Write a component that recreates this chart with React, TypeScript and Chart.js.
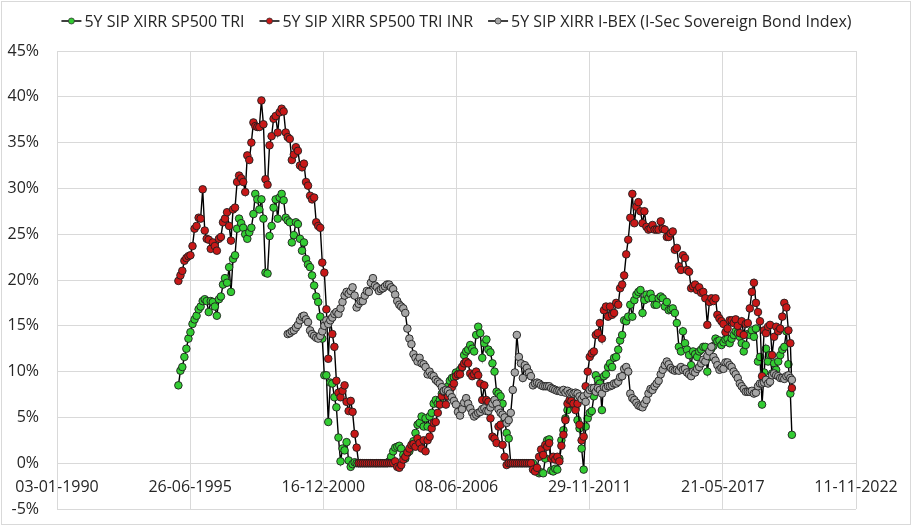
import React, { useEffect, useRef } from 'react';
import { Chart, registerables } from 'chart.js';

Chart.register(...registerables);

// ---------- data ----------
const SERIES_LABELS = [
  '5Y SIP XIRR SP500 TRI',
  '5Y SIP XIRR SP500 TRI INR',
  '5Y SIP XIRR I-BEX (I-Sec Sovereign Bond Index)',
];

// monthly observations, month-end, first one is Dec-1994
const FIRST_MONTH_END = { year: 1994, month: 12 };
const FINAL_DATE = '2020-03-23';

const X_TICK_DATES = ['1990-01-03', '1995-06-26', '2000-12-16', '2006-06-08', '2011-11-29', '2017-05-21', '2022-11-11'];
const Y_TICKS = [-5, 0, 5, 10, 15, 20, 25, 30, 35, 40, 45];

const SP500_TRI = [
  8.5, 10.1, 10.5, 11.6, 12.5, 13.6, 14.3, 15.2, 15.7, 16.1,
  16.8, 17.1, 17.7, 17.9, 17.7, 16.5, 17.7, 17.6, 17.1, 16.1,
  17.9, 18.2, 19.5, 20.2, 19.7, 21.4, 18.7, 22.3, 22.7, 25.6,
  26.7, 26.2, 25.7, 25.0, 24.5, 25.2, 25.7, 27.2, 29.4, 28.8,
  27.7, 28.8, 26.7, 20.8, 20.7, 24.8, 25.9, 27.9, 28.8, 26.7,
  29.0, 29.4, 28.7, 26.8, 26.5, 26.3, 24.1, 24.9, 26.3, 26.1,
  24.5, 23.2, 24.1, 22.3, 21.7, 21.4, 20.5, 19.4, 18.2, 17.6,
  16.0, 13.6, 9.6, 9.6, 4.5, 8.8, 8.7, 7.2, 6.1, 2.8,
  0.2, 1.6, 1.4, 2.3, 0.3, -0.4, -0.1, 0.1, 0, 0,
  0, 0, 0, 0, 0, 0, 0, 0, 0, 0,
  0, 0, 0, 0, 0.2, 0.7, 1.3, 1.7, 1.8, 1.9,
  1.6, 0.9, 0.5, 1.1, 1.3, 1.8, 2.4, 3.3, 4.2, 4.4,
  5.1, 4.0, 4.9, 4.0, 5.1, 5.5, 6.5, 6.9, 6.5, 6.9,
  7.6, 7.9, 8.2, 8.4, 9.0, 9.3, 9.4, 9.9, 9.7, 10.2,
  10.5, 11.8, 12.2, 12.4, 12.9, 12.5, 12.2, 14.0, 14.9, 14.2,
  11.5, 13.1, 13.5, 12.4, 12.1, 10.9, 10.0, 7.8, 7.6, 7.3,
  6.5, 4.7, 3.3, 2.7, 0, 0, 0, 0, 0, 0,
  0, 0, 0, 0, 0, 0, -0.6, -0.9, -1.1, -1.0,
  -1.1, 0.5, 2.5, 2.6, -0.8, -0.9, -0.6, -0.7, 0.5, 2.5,
  3.6, 4.9, 5.8, 6.5, 6.9, 6.4, 6.0, 4.7, 3.8, 1.6,
  -0.7, 4.0, 4.9, 5.5, 5.7, 7.3, 9.6, 9.1, 8.7, 5.8,
  9.5, 9.7, 10.5, 10.9, 10.5, 11.5, 11.6, 12.4, 13.4, 14.0,
  15.6, 15.5, 16.0, 17.3, 16.0, 17.8, 18.4, 18.7, 18.9, 16.4,
  17.8, 18.4, 18.0, 18.5, 18.0, 17.3, 17.3, 18.0, 18.2, 18.0,
  17.1, 17.6, 16.7, 16.8, 16.9, 16.4, 15.3, 12.7, 12.2, 14.4,
  13.1, 12.4, 11.8, 10.7, 12.2, 11.9, 11.6, 12.2, 12.4, 12.7,
  12.7, 10.0, 11.6, 12.5, 12.8, 13.6, 13.3, 13.4, 12.9, 13.2,
  13.5, 13.6, 13.1, 13.6, 14.0, 14.4, 14.2, 13.8, 13.1, 12.2,
  12.9, 14.1, 14.0, 14.5, 13.8, 14.7, 11.1, 11.6, 6.4, 9.9,
  12.5, 11.1, 11.8, 9.8, 10.9, 10.2, 11.1, 11.8, 12.4, 12.7,
  14.4, 10.8, 7.6,
];
const SP500_TRI_FINAL = 3.1;

const SP500_TRI_INR = [
  19.9, 20.5, 21.0, 22.1, 22.4, 22.6, 22.7, 23.7, 25.6, 25.9,
  26.8, 26.7, 29.9, 25.4, 24.5, 24.4, 23.4, 24.1, 23.7, 23.2,
  24.5, 24.7, 26.3, 26.7, 27.4, 25.9, 24.3, 27.7, 27.9, 30.7,
  31.4, 31.1, 30.7, 29.6, 33.6, 33.1, 35.0, 37.2, 36.8, 36.7,
  36.7, 39.6, 37.0, 31.0, 30.4, 34.7, 35.7, 37.6, 37.9, 36.1,
  38.3, 38.7, 38.4, 36.1, 35.6, 35.4, 33.1, 33.7, 34.5, 34.1,
  32.5, 32.3, 32.7, 30.7, 30.3, 29.2, 28.8, 29.0, 26.3, 25.9,
  25.7, 21.9, 20.8, 16.8, 11.4, 15.7, 14.1, 12.7, 9.0, 7.7,
  7.2, 7.9, 8.5, 6.7, 5.7, 6.8, 5.6, 3.2, 1.7, 0,
  0, 0, 0, 0, 0, 0, 0, 0, 0, 0,
  0, 0, 0, 0, 0, 0, 0, 0.2, -0.4, -0.5,
  -0.2, 0.4, 0.7, 1.2, 1.6, 2.0, 2.1, 1.8, 2.7, 2.2,
  1.6, 2.5, 1.3, 2.5, 2.9, 3.8, 4.4, 4.5, 5.5, 6.4,
  7.3, 7.8, 6.4, 7.3, 8.0, 8.3, 8.7, 9.5, 9.7, 9.7,
  10.5, 10.9, 11.1, 10.9, 9.8, 9.5, 9.7, 10.0, 9.6, 8.7,
  6.9, 8.5, 6.9, 6.7, 4.9, 2.9, 2.7, 2.2, 4.0, 4.2,
  2.0, 0.7, -0.2, 0, 0, 0, 0, 0, 0, 0,
  0, 0, 0, 0, 0, -0.7, -0.9, -0.5, 0.7, 1.5,
  0.9, 2.0, 1.8, 2.2, 0.5, 0.7, 0.4, 0.7, 0.2, 1.9,
  3.1, 4.7, 6.5, 6.9, 6.8, 6.5, 5.8, 6.5, 4.2, 2.5,
  2.9, 8.4, 10.0, 11.6, 12.0, 12.2, 14.0, 14.2, 15.3, 13.6,
  16.7, 17.1, 16.0, 17.1, 16.2, 16.4, 17.5, 17.3, 19.1, 19.5,
  20.5, 22.8, 24.4, 26.8, 29.4, 26.2, 28.0, 28.5, 27.5, 26.2,
  27.5, 25.8, 25.5, 25.6, 26.0, 25.5, 25.5, 25.5, 26.4, 25.6,
  25.5, 24.7, 24.7, 25.1, 25.3, 23.3, 23.5, 21.5, 21.1, 22.7,
  22.4, 21.1, 20.9, 19.1, 19.3, 19.5, 18.9, 19.2, 18.6, 18.7,
  18.0, 15.1, 17.6, 18.0, 17.7, 18.0, 16.2, 15.8, 15.5, 15.2,
  14.3, 14.7, 15.6, 15.6, 15.3, 15.7, 15.0, 14.2, 15.5, 14.0,
  15.2, 15.3, 16.9, 18.7, 19.7, 17.5, 16.5, 15.5, 9.5, 14.5,
  14.2, 14.9, 15.1, 11.8, 13.8, 14.9, 14.4, 14.7, 16.0, 17.5,
  17.0, 14.5, 13.1,
];
const SP500_TRI_INR_FINAL = 8.2;

// bond index series begins at month index 54 (Jun-1999)
const IBEX_START_INDEX = 54;
const IBEX = [
  14.1, 14.2, 14.4, 14.5, 14.8, 15.1,
  15.6, 16.0, 16.1, 15.7, 15.4, 14.5, 14.1, 13.9, 13.7, 13.6,
  13.9, 14.4, 15.0, 15.6, 15.2, 15.6, 15.9, 16.3, 16.5, 16.3,
  16.9, 17.6, 18.3, 18.7, 18.5, 18.8, 19.2, 18.3, 17.0, 17.4,
  17.7, 17.7, 18.3, 18.8, 18.7, 19.7, 20.2, 19.4, 19.2, 18.8,
  19.0, 19.1, 19.3, 19.5, 19.5, 19.2, 19.0, 18.4, 17.7, 17.3,
  17.1, 16.9, 16.4, 14.7, 13.6, 13.0, 11.9, 11.5, 11.1, 11.5,
  10.9, 10.8, 10.5, 9.7, 10.0, 9.6, 9.5, 9.1, 8.9, 8.7,
  8.3, 7.9, 8.0, 7.9, 7.6, 7.2, 6.8, 6.4, 5.6, 5.2,
  5.9, 6.6, 7.1, 6.5, 6.0, 5.5, 5.1, 5.3, 5.5, 5.6,
  5.9, 6.0, 5.7, 5.7, 6.1, 6.5, 6.9, 6.5, 5.9, 5.5,
  5.3, 5.0, 4.4, 4.7, 5.5, 8.0, 9.9, 14.0, 11.6, 10.9,
  9.3, 10.7, 10.4, 9.9, 9.5, 8.5, 8.7, 8.8, 8.7, 8.5,
  8.4, 8.4, 8.4, 8.4, 8.2, 8.1, 8.0, 7.9, 7.9, 7.8,
  8.0, 7.7, 7.9, 7.6, 7.7, 7.6, 7.7, 7.6, 7.3, 7.0,
  7.3, 6.7, 7.6, 8.0, 8.2, 8.2, 7.8, 8.2, 8.0, 7.6,
  8.3, 8.2, 8.4, 8.4, 8.5, 8.7, 8.7, 8.9, 9.4, 9.5,
  10.3, 10.5, 10.0, 7.6, 7.1, 6.9, 6.6, 6.3, 6.2, 6.1,
  6.5, 6.9, 7.6, 8.1, 8.0, 8.4, 8.7, 9.0, 9.7, 10.2,
  10.7, 11.1, 10.8, 10.4, 10.2, 10.1, 10.2, 10.1, 10.5, 10.2,
  10.3, 9.9, 9.7, 9.5, 10.0, 9.9, 10.3, 10.5, 10.9, 11.3,
  11.1, 11.7, 12.2, 12.7, 11.6, 11.2, 10.7, 10.2, 10.4, 10.3,
  11.0, 11.0, 10.7, 10.5, 10.0, 9.7, 9.3, 8.7, 8.4, 8.1,
  7.8, 7.8, 7.8, 7.9, 7.6, 7.7, 8.4, 8.7, 8.7, 8.8,
  9.1, 8.7, 8.9, 9.6, 9.8, 9.6, 9.5, 9.3, 9.3, 9.2,
  9.5, 9.6, 9.3,
];
const IBEX_FINAL = 9.1;

// ---------- styling ----------
const COLORS = ['#33cc33', '#c81818', '#a6a6a6'];
const GRID = '#d9d9d9';
const FONT = '"Open Sans", "Liberation Sans", sans-serif';
const TEXT = '#262626';
const PLOT = { left: 57, right: 856, top: 51, bottom: 509 };

// ---------- helpers ----------
const toSerial = (ms: number) => ms / 86400000 + 25569;
const isoToSerial = (iso: string) => {
  const [y, m, d] = iso.split('-').map(Number);
  return toSerial(Date.UTC(y, m - 1, d));
};
const monthEndSerial = (i: number) =>
  toSerial(Date.UTC(FIRST_MONTH_END.year, FIRST_MONTH_END.month + i, 0));
const fmtSerial = (s: number) => {
  const d = new Date((s - 25569) * 86400000);
  const dd = String(d.getUTCDate()).padStart(2, '0');
  const mm = String(d.getUTCMonth() + 1).padStart(2, '0');
  return `${dd}-${mm}-${d.getUTCFullYear()}`;
};

const buildPoints = (values: number[], offset: number, finalValue: number) => {
  const pts = values.map((v, i) => ({ x: monthEndSerial(i + offset), y: v }));
  pts.push({ x: isoToSerial(FINAL_DATE), y: finalValue });
  return pts;
};

const X_TICKS = X_TICK_DATES.map(isoToSerial);

const frameAndLegend = {
  id: 'frameAndLegend',
  beforeDraw(chart: any) {
    const { ctx } = chart;
    ctx.save();
    ctx.fillStyle = '#ffffff';
    ctx.fillRect(0, 0, chart.width, chart.height);
    ctx.strokeStyle = GRID;
    ctx.lineWidth = 1;
    ctx.strokeRect(1.5, 1.5, 909, 523);
    ctx.restore();
  },
  afterDraw(chart: any) {
    const { ctx, chartArea } = chart;
    ctx.save();
    ctx.font = `16px ${FONT}`;
    ctx.textBaseline = 'middle';
    ctx.textAlign = 'left';
    const markerW = 20;
    const gap = 3;
    const itemGap = 15;
    const widths = SERIES_LABELS.map((t) => ctx.measureText(t).width);
    const total = widths.reduce((a, w) => a + markerW + gap + w, 0) + itemGap * (SERIES_LABELS.length - 1);
    let x = (chartArea.left + chartArea.right) / 2 - total / 2;
    const y = 21;
    SERIES_LABELS.forEach((label, i) => {
      ctx.strokeStyle = '#000';
      ctx.lineWidth = 1.5;
      ctx.beginPath();
      ctx.moveTo(x, y);
      ctx.lineTo(x + markerW, y);
      ctx.stroke();
      ctx.beginPath();
      ctx.arc(x + markerW / 2, y, 3, 0, Math.PI * 2);
      ctx.fillStyle = COLORS[i];
      ctx.fill();
      ctx.lineWidth = 0.8;
      ctx.strokeStyle = '#333';
      ctx.stroke();
      ctx.fillStyle = TEXT;
      ctx.fillText(label, x + markerW + gap, y + 1);
      x += markerW + gap + widths[i] + itemGap;
    });
    ctx.restore();
  },
};

export default function App() {
  const ref = useRef<HTMLCanvasElement | null>(null);

  useEffect(() => {
    if (!ref.current) return;
    const ds = (label: string, data: any[], color: string, order: number) => ({
      label,
      data,
      order,
      borderColor: '#000000',
      borderWidth: 1.4,
      pointRadius: 3.8,
      pointBackgroundColor: color,
      pointBorderColor: '#1e1e1e',
      pointBorderWidth: 0.9,
      tension: 0,
      fill: false,
    });
    const chart = new Chart(ref.current, {
      type: 'line',
      data: {
        datasets: [
          ds(SERIES_LABELS[0], buildPoints(SP500_TRI, 0, SP500_TRI_FINAL), COLORS[0], 3),
          ds(SERIES_LABELS[1], buildPoints(SP500_TRI_INR, 0, SP500_TRI_INR_FINAL), COLORS[1], 2),
          ds(SERIES_LABELS[2], buildPoints(IBEX, IBEX_START_INDEX, IBEX_FINAL), COLORS[2], 1),
        ],
      },
      options: {
        responsive: false,
        animation: false,
        events: [],
        layout: { padding: { left: 0, right: 924 - PLOT.right, top: PLOT.top, bottom: 526 - PLOT.bottom } },
        plugins: { legend: { display: false }, tooltip: { enabled: false } },
        scales: {
          x: {
            type: 'linear',
            position: { y: 0 } as any,
            min: X_TICKS[0],
            max: X_TICKS[X_TICKS.length - 1],
            afterBuildTicks: (s: any) => {
              s.ticks = X_TICKS.map((v) => ({ value: v }));
            },
            afterFit: (s: any) => {
              s.paddingTop = 0;
              s.paddingBottom = 0;
            },
            grid: { color: GRID, lineWidth: 1, drawTicks: false },
            border: { color: GRID, width: 1 },
            ticks: {
              callback: (v: any) => fmtSerial(Number(v)),
              font: { family: FONT, size: 16 },
              color: TEXT,
              padding: 15,
              maxRotation: 0,
              autoSkip: false,
            },
          },
          y: {
            type: 'linear',
            position: 'left',
            min: Y_TICKS[0],
            max: Y_TICKS[Y_TICKS.length - 1],
            afterBuildTicks: (s: any) => {
              s.ticks = Y_TICKS.map((v) => ({ value: v }));
            },
            afterFit: (s: any) => {
              s.width = PLOT.left;
              s.paddingTop = 10;
              s.paddingBottom = 10;
            },
            grid: { color: GRID, lineWidth: 1, drawTicks: false },
            border: { color: GRID, width: 1 },
            ticks: {
              callback: (v: any) => `${v}%`,
              font: { family: FONT, size: 16 },
              color: TEXT,
              padding: 18,
            },
          },
        },
      },
      plugins: [frameAndLegend],
    });
    return () => chart.destroy();
  }, []);

  return (
    <div style={{ position: 'fixed', left: 0, top: 0, width: 924, height: 526, background: '#fff' }}>
      <canvas ref={ref} width={924} height={526} style={{ display: 'block' }} />
    </div>
  );
}
